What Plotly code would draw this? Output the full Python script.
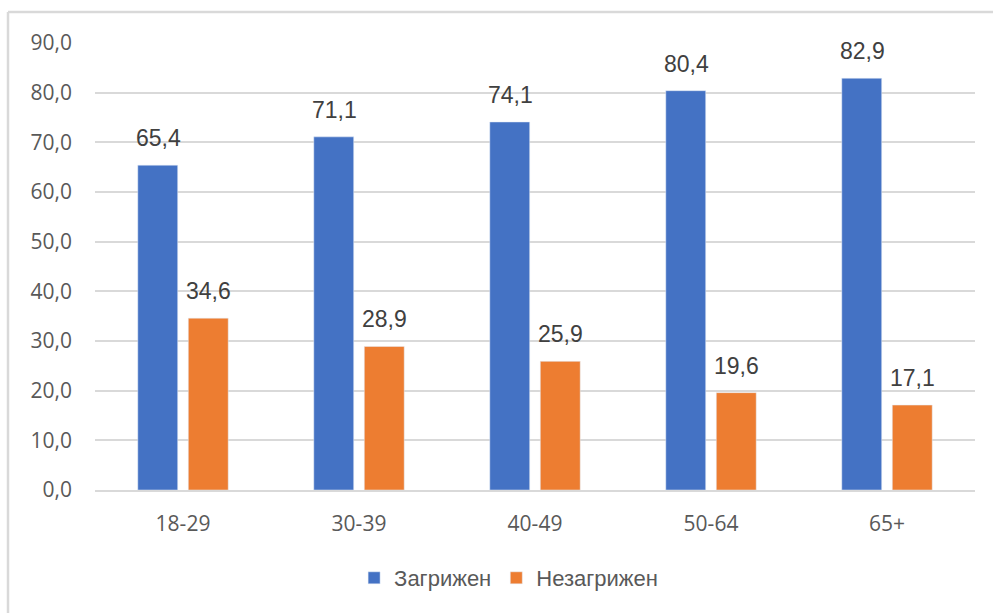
import plotly.graph_objects as go

categories = ["18-29", "30-39", "40-49", "50-64", "65+"]
worried = [65.4, 71.1, 74.1, 80.4, 82.9]
not_worried = [34.6, 28.9, 25.9, 19.6, 17.1]
series_names = ["Загрижен", "Незагрижен"]
y_ticks = [0, 10, 20, 30, 40, 50, 60, 70, 80, 90]

BLUE = "#4472C4"
ORANGE = "#ED7D31"
GRID = "#D9D9D9"
TXT = "#595959"

W, H = 993, 613
ML, MR, MT, MB = 95, 18, 43, 123
PW, PH = W - ML - MR, H - MT - MB

fig = go.Figure()
fig.add_bar(x=categories, y=worried, name=series_names[0], marker_color=BLUE)
fig.add_bar(x=categories, y=not_worried, name=series_names[1], marker_color=ORANGE)

label_font = dict(family="Liberation Sans, Arial", size=23, color="#404040")
for shift, vals in ((-25, worried), (25, not_worried)):
    for c, v in zip(categories, vals):
        fig.add_annotation(x=c, y=v, text=f"{v:.1f}".replace(".", ","),
                           showarrow=False, xshift=shift, yshift=27,
                           yanchor="middle", font=label_font)

def px_to_paper_x(px):
    return (px - ML) / PW

def px_to_paper_y(py):
    return (H - MB - py) / PH

# chart frame (top and left border)
fig.add_shape(type="line", xref="paper", yref="paper",
              x0=px_to_paper_x(8), x1=px_to_paper_x(W + 5),
              y0=px_to_paper_y(12), y1=px_to_paper_y(12),
              line=dict(color=GRID, width=2.5))
fig.add_shape(type="line", xref="paper", yref="paper",
              x0=px_to_paper_x(8), x1=px_to_paper_x(8),
              y0=px_to_paper_y(12), y1=px_to_paper_y(H + 5),
              line=dict(color=GRID, width=2.5))

fig.update_layout(
    width=W, height=H,
    margin=dict(l=ML, r=MR, t=MT, b=MB),
    paper_bgcolor="white", plot_bgcolor="white",
    separators=", ",
    barmode="group", bargap=0.426, bargroupgap=0.21,
    showlegend=True,
    legend=dict(orientation="h", x=0.47, xanchor="center",
                y=px_to_paper_y(578), yanchor="middle",
                font=dict(family="Liberation Sans, Arial", size=22, color=TXT),
                traceorder="normal"),
    xaxis=dict(showgrid=False, showline=True, linecolor=GRID, linewidth=1.5,
               tickfont=dict(family="Open Sans", size=21, color=TXT),
               ticks="", ticklabelstandoff=14),
    yaxis=dict(range=[0, 90], tickvals=y_ticks, tickformat=".1f",
               showgrid=True, gridcolor=GRID, gridwidth=1.5,
               zeroline=False, showline=False,
               tickfont=dict(family="Open Sans", size=21, color=TXT),
               ticks="", ticklabelstandoff=22),
)

fig.write_html("out.html", config={"displayModeBar": False},
               post_script="document.body.style.margin='0';")
